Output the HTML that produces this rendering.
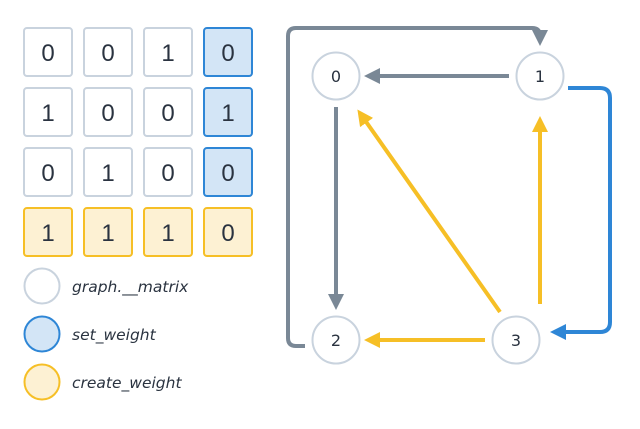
<!DOCTYPE html>
<html><head><style>
body{margin:0;background:#fff;width:640px;height:424px;overflow:hidden}
</style></head><body>
<svg width="640" height="424" xmlns="http://www.w3.org/2000/svg" font-family="'DejaVu Sans','Liberation Sans',sans-serif">
<defs>
<marker id="g" markerWidth="4" markerHeight="4" refX="2" refY="2" orient="auto" markerUnits="strokeWidth"><path d="M0,0 L4,2 L0,4z" fill="#7a8896"/></marker>
<marker id="y" markerWidth="4" markerHeight="4" refX="2" refY="2" orient="auto" markerUnits="strokeWidth"><path d="M0,0 L4,2 L0,4z" fill="#f6bf26"/></marker>
<marker id="b" markerWidth="4" markerHeight="4" refX="2" refY="2" orient="auto" markerUnits="strokeWidth"><path d="M0,0 L4,2 L0,4z" fill="#2e86d6"/></marker>
</defs>
<g font-size="24" text-anchor="middle" fill="#2a3340" font-family="'Liberation Sans',sans-serif">
<g stroke-width="2">
<rect x="24" y="28" width="48" height="48" rx="3" fill="#fff" stroke="#c9d3de"/>
<rect x="84" y="28" width="48" height="48" rx="3" fill="#fff" stroke="#c9d3de"/>
<rect x="144" y="28" width="48" height="48" rx="3" fill="#fff" stroke="#c9d3de"/>
<rect x="204" y="28" width="48" height="48" rx="3" fill="#d3e5f6" stroke="#2e86d6"/>
<rect x="24" y="88" width="48" height="48" rx="3" fill="#fff" stroke="#c9d3de"/>
<rect x="84" y="88" width="48" height="48" rx="3" fill="#fff" stroke="#c9d3de"/>
<rect x="144" y="88" width="48" height="48" rx="3" fill="#fff" stroke="#c9d3de"/>
<rect x="204" y="88" width="48" height="48" rx="3" fill="#d3e5f6" stroke="#2e86d6"/>
<rect x="24" y="148" width="48" height="48" rx="3" fill="#fff" stroke="#c9d3de"/>
<rect x="84" y="148" width="48" height="48" rx="3" fill="#fff" stroke="#c9d3de"/>
<rect x="144" y="148" width="48" height="48" rx="3" fill="#fff" stroke="#c9d3de"/>
<rect x="204" y="148" width="48" height="48" rx="3" fill="#d3e5f6" stroke="#2e86d6"/>
<rect x="24" y="208" width="48" height="48" rx="3" fill="#fdf1d3" stroke="#f6bf26"/>
<rect x="84" y="208" width="48" height="48" rx="3" fill="#fdf1d3" stroke="#f6bf26"/>
<rect x="144" y="208" width="48" height="48" rx="3" fill="#fdf1d3" stroke="#f6bf26"/>
<rect x="204" y="208" width="48" height="48" rx="3" fill="#fdf1d3" stroke="#f6bf26"/>
</g>
<text x="48" y="61">0</text><text x="108" y="61">0</text><text x="168" y="61">1</text><text x="228" y="61">0</text>
<text x="48" y="121">1</text><text x="108" y="121">0</text><text x="168" y="121">0</text><text x="228" y="121">1</text>
<text x="48" y="181">0</text><text x="108" y="181">1</text><text x="168" y="181">0</text><text x="228" y="181">0</text>
<text x="48" y="241">1</text><text x="108" y="241">1</text><text x="168" y="241">1</text><text x="228" y="241">0</text>
</g>
<g stroke-width="2">
<circle cx="42" cy="286" r="17.5" fill="#fff" stroke="#c9d3de"/>
<circle cx="42" cy="334" r="17.5" fill="#d3e5f6" stroke="#2e86d6"/>
<circle cx="42" cy="382" r="17.5" fill="#fdf1d3" stroke="#f6bf26"/>
</g>
<g font-size="15.5" font-style="italic" fill="#2a3340">
<text x="72" y="292">graph.__matrix</text>
<text x="72" y="340">set_weight</text>
<text x="72" y="388">create_weight</text>
</g>
<g fill="none" stroke-width="4" stroke-linejoin="round">
<path d="M305,346 H296 Q288,346 288,338 V36 Q288,28 296,28 H532 Q540,28 540,36 V38" stroke="#7a8896" marker-end="url(#g)"/>
<path d="M509,76 H372" stroke="#7a8896" marker-end="url(#g)"/>
<path d="M336,107 V302" stroke="#7a8896" marker-end="url(#g)"/>
<path d="M568,88 H600 Q610,88 610,98 V322 Q610,332 600,332 H558" stroke="#2e86d6" marker-end="url(#b)"/>
<path d="M500,312 L362,116" stroke="#f6bf26" marker-end="url(#y)"/>
<path d="M540,304 V124" stroke="#f6bf26" marker-end="url(#y)"/>
<path d="M485,340 H372" stroke="#f6bf26" marker-end="url(#y)"/>
</g>
<g stroke="#c9d3de" stroke-width="2" fill="#fff">
<circle cx="336" cy="76" r="23.5"/><circle cx="540" cy="76" r="23.5"/>
<circle cx="336" cy="340" r="23.5"/><circle cx="516" cy="340" r="23.5"/>
</g>
<g font-size="16" text-anchor="middle" fill="#2a3340">
<text x="336" y="82">0</text><text x="540" y="82">1</text>
<text x="336" y="346">2</text><text x="516" y="346">3</text>
</g>
</svg>
</body></html>
